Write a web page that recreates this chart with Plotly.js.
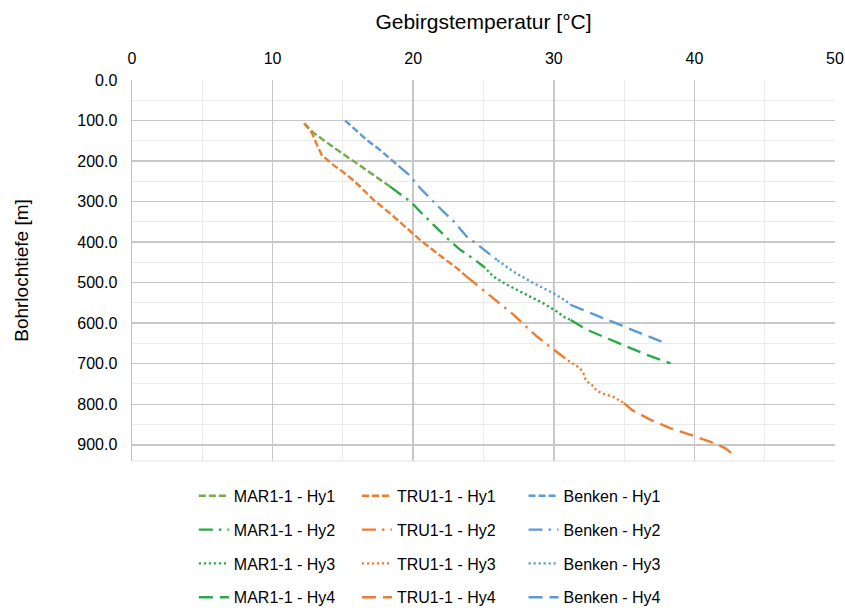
<!DOCTYPE html>
<html>
<head>
<meta charset="utf-8">
<script src="https://cdn.plot.ly/plotly-3.0.1.min.js"></script>
<style>html,body{margin:0;padding:0;background:#fff;}#chart{width:845px;height:610px;}</style>
</head>
<body>
<div id="chart"></div>
<script>
// ---- data (temperature °C, depth m) ----
const marHy1T = [12.25, 12.9, 14.33, 16.35, 18.36];
const marHy1D = [107, 130, 166, 214, 263];
const marHy2T = [18.36, 19.8, 20.73, 21.44, 22.4, 23.34, 24.24, 25.0];
const marHy2D = [263, 300, 333, 357, 390, 419, 440, 460];
const marHy3T = [25.0, 25.71, 26.66, 28.08, 29.26, 30.21, 30.7, 31.2];
const marHy3D = [460, 485, 505, 530, 551, 571, 584, 592];
const marHy4T = [31.2, 32.35, 33.77, 35.19, 36.6, 38.3];
const marHy4D = [592, 616, 637, 657, 678, 699];

const truHy1T = [12.25, 12.8, 13.15, 13.5, 14.33, 15.28, 16.23, 17.18, 18.36, 19.55, 20.5, 21.68, 23.1, 23.8];
const truHy1D = [107, 131, 160, 185, 210, 234, 263, 296, 329, 366, 395, 427, 464, 485];
const truHy2T = [23.8, 25.24, 26.2, 27.13, 27.96, 28.8, 29.69, 30.57, 31.0];
const truHy2D = [485, 526, 551, 579, 606, 633, 657, 682, 692];
const truHy3T = [31.0, 31.5, 31.87, 32.1, 32.22, 32.46, 32.82, 33.05, 33.53, 34.24, 35.0];
const truHy3D = [692, 703, 711, 723, 736, 746, 756, 767, 774, 782, 797];
const truHy4T = [35.0, 35.55, 36.85, 38.27, 39.69, 41.1, 42.18, 42.65, 42.8];
const truHy4D = [797, 814, 838, 859, 875, 892, 908, 920, 925];

const benHy1T = [15.16, 16.7, 17.65, 18.95];
const benHy1D = [100, 148, 173, 212];
const benHy2T = [18.95, 19.67, 20.5, 21.2, 22.15, 22.86, 23.8, 24.5, 25.47, 26.0];
const benHy2D = [212, 233, 267, 292, 325, 348, 386, 404, 431, 445];
const benHy3T = [26.0, 27.13, 28.55, 29.97, 30.93, 31.2];
const benHy3D = [445, 473, 501, 526, 547, 555];
const benHy4T = [31.2, 33.3, 34.7, 36.14, 37.68];
const benHy4D = [555, 585, 604, 624.5, 646];

const seriesNames = ['MAR1-1 - Hy1','MAR1-1 - Hy2','MAR1-1 - Hy3','MAR1-1 - Hy4',
                     'TRU1-1 - Hy1','TRU1-1 - Hy2','TRU1-1 - Hy3','TRU1-1 - Hy4',
                     'Benken - Hy1','Benken - Hy2','Benken - Hy3','Benken - Hy4'];
const xTicks = [0, 10, 20, 30, 40, 50];

// ---- styles ----
const dashes = ['7px,3px', '14px,6px,2.5px,6px', '2.2px,2.8px', '14px,7px'];
const colMar = ['#70AD47', '#2BA84A', '#2BA84A', '#2BA84A'];
const colTru = '#ED7D31';
const colBen = '#5B9BD5';

const groups = [
  {T:[marHy1T, marHy2T, marHy3T, marHy4T], D:[marHy1D, marHy2D, marHy3D, marHy4D], col: colMar, legend:'legend'},
  {T:[truHy1T, truHy2T, truHy3T, truHy4T], D:[truHy1D, truHy2D, truHy3D, truHy4D], col: [colTru,colTru,colTru,colTru], legend:'legend2'},
  {T:[benHy1T, benHy2T, benHy3T, benHy4T], D:[benHy1D, benHy2D, benHy3D, benHy4D], col: [colBen,colBen,colBen,colBen], legend:'legend3'}
];

const traces = [];
groups.forEach((g, gi) => {
  for (let k = 0; k < 4; k++) {
    traces.push({
      type: 'scatter', mode: 'lines',
      x: g.T[k], y: g.D[k],
      name: seriesNames[gi*4 + k],
      legend: g.legend,
      legendgroup: 'g' + gi + '_' + k,
      line: {color: g.col[k], width: 2.4, dash: dashes[k]},
      hoverinfo: 'x+y+name'
    });
  }
});

const font = "'Liberation Sans', Arial, sans-serif";
const legBase = {
  y: -0.047, yanchor: 'top', xanchor: 'left', orientation: 'v',
  font: {family: font, size: 16, color: '#000'},
  bgcolor: 'rgba(0,0,0,0)', tracegroupgap: 10, borderwidth: 0
};

const layout = {
  width: 845, height: 610,
  margin: {l: 132, r: 10, t: 80, b: 149, autoexpand: false},
  paper_bgcolor: '#fff', plot_bgcolor: '#fff',
  font: {family: font, color: '#000'},
  showlegend: true,
  xaxis: {
    side: 'top', range: [0, 50], tickvals: xTicks, ticktext: xTicks.map(String),
    showgrid: true, gridcolor: '#c8c8c8', gridwidth: 1.5,
    minor: {dtick: 5, showgrid: true, gridcolor: '#ebebeb', gridwidth: 1},
    zeroline: false, showline: false, ticks: '', ticklabelstandoff: 12,
    tickfont: {family: font, size: 16, color: '#000'},
    title: {text: 'Gebirgstemperatur [°C]', font: {family: font, size: 21, color: '#000'}, standoff: 14},
    fixedrange: true
  },
  yaxis: {
    range: [940, 0], dtick: 100, tick0: 0, tickformat: '.1f',
    showgrid: true, gridcolor: '#c8c8c8', gridwidth: 1.5,
    minor: {dtick: 50, showgrid: true, gridcolor: '#ebebeb', gridwidth: 1},
    zeroline: false, showline: true, linecolor: '#c0c0c0', linewidth: 1.5, ticks: '', ticklabelstandoff: 10,
    tickfont: {family: font, size: 16, color: '#000'},
    title: {text: 'Bohrlochtiefe [m]', font: {family: font, size: 19, color: '#000'}, standoff: 43},
    fixedrange: true
  },
  shapes: [
    {type: 'line', xref: 'paper', yref: 'paper', x0: 0, x1: 1, y0: 0, y1: 0, line: {color: '#e3e3e3', width: 1}}
  ],
  legend: Object.assign({}, legBase, {x: 0.088}),
  legend2: Object.assign({}, legBase, {x: 0.320}),
  legend3: Object.assign({}, legBase, {x: 0.557})
};

Plotly.newPlot('chart', traces, layout, {displayModeBar: false, staticPlot: true});
</script>
</body>
</html>
